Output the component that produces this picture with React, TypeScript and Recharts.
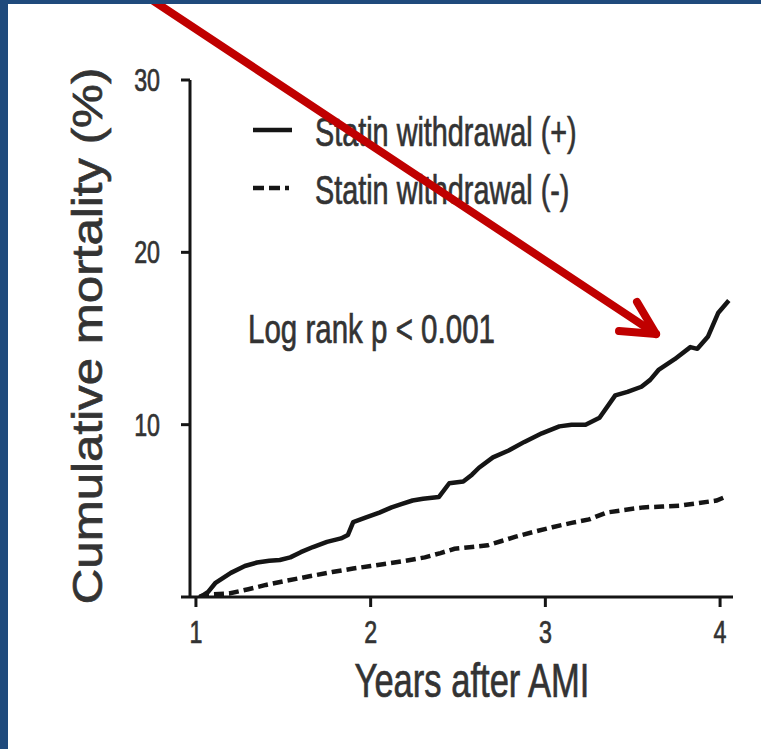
import React from "react";
import { LineChart, Line, XAxis, YAxis, Label } from "recharts";

// Kaplan-Meier style cumulative mortality
const withdrawalT = [1.02, 1.04, 1.07, 1.11, 1.2, 1.28, 1.35, 1.42, 1.48, 1.54, 1.6, 1.67, 1.75, 1.83, 1.87, 1.9, 1.97, 2.05, 2.12, 2.18, 2.24, 2.3, 2.39, 2.45, 2.53, 2.58, 2.62, 2.7, 2.79, 2.88, 2.98, 3.08, 3.15, 3.23, 3.31, 3.4, 3.47, 3.55, 3.6, 3.65, 3.74, 3.83, 3.87, 3.93, 3.99, 4.05];
const withdrawalV = [0, 0.1, 0.3, 0.8, 1.4, 1.8, 2.0, 2.1, 2.15, 2.3, 2.6, 2.9, 3.2, 3.4, 3.6, 4.35, 4.6, 4.9, 5.2, 5.4, 5.6, 5.7, 5.8, 6.6, 6.7, 7.1, 7.5, 8.1, 8.5, 9.0, 9.5, 9.9, 10.0, 10.0, 10.4, 11.7, 11.9, 12.2, 12.6, 13.2, 13.8, 14.5, 14.4, 15.1, 16.5, 17.2];

const continuedT = [1.02, 1.06, 1.19, 1.3, 1.4, 1.52, 1.65, 1.78, 1.9, 2.0, 2.1, 2.2, 2.31, 2.4, 2.48, 2.58, 2.67, 2.75, 2.83, 2.94, 3.04, 3.15, 3.25, 3.35, 3.45, 3.56, 3.67, 3.77, 3.88, 3.98, 4.04];
const continuedV = [0, 0.15, 0.2, 0.45, 0.7, 0.95, 1.2, 1.45, 1.65, 1.8, 1.95, 2.1, 2.3, 2.55, 2.8, 2.9, 3.0, 3.25, 3.5, 3.8, 4.05, 4.3, 4.5, 4.9, 5.05, 5.2, 5.25, 5.3, 5.45, 5.6, 5.85];

const xTicks = [1, 2, 3, 4];
const yTicks = [0, 10, 20, 30];
const yTickLabels = ["", "10", "20", "30"];

const plus = withdrawalT.map((t, i) => ({ t, v: withdrawalV[i] }));
const minus = continuedT.map((t, i) => ({ t, v: continuedV[i] }));

const INK = "#151515";
const TEXT = "#333";
const FONT = "'Liberation Sans', Arial, sans-serif";
// the source is a blurry scan, so text gets a thin outline to look heavier
const heavy = { stroke: TEXT, strokeWidth: 0.7 };

const XTick = ({ x, y, payload }: any) => (
  <text
    transform={`translate(${x},${y + 34}) scale(0.75,1)`}
    textAnchor="middle"
    fontSize={31}
    fontFamily={FONT}
    fill={TEXT}
    {...heavy}
  >
    {payload.value}
  </text>
);

const YTick = ({ y, index }: any) => (
  <text
    transform={`translate(160,${y + 11}) scale(0.75,1)`}
    textAnchor="end"
    fontSize={31}
    fontFamily={FONT}
    fill={TEXT}
    {...heavy}
  >
    {yTickLabels[index]}
  </text>
);

export default function App() {
  return (
    <div
      style={{
        position: "absolute",
        left: 0,
        top: 0,
        width: 761,
        height: 749,
        background: "#fff",
        overflow: "hidden",
      }}
    >
      <LineChart
        width={761}
        height={749}
        margin={{ top: 80, right: 28, left: 0, bottom: 0 }}
      >
        <XAxis
          type="number"
          dataKey="t"
          domain={[0.966, 4.074]}
          ticks={xTicks}
          allowDataOverflow
          height={152}
          stroke={INK}
          strokeWidth={3}
          tickSize={10}
          tick={<XTick />}
        >
          <Label
            content={() => (
              <text
                transform="translate(472,697) scale(0.72,1)"
                textAnchor="middle"
                fontSize={48}
                fontFamily={FONT}
                fill={TEXT}
                {...heavy}
              >
                Years after AMI
              </text>
            )}
          />
        </XAxis>
        <YAxis
          type="number"
          dataKey="v"
          domain={[0, 30]}
          ticks={yTicks}
          allowDataOverflow
          width={190}
          stroke={INK}
          strokeWidth={3}
          tickSize={9}
          tick={<YTick />}
        >
          <Label
            content={() => (
              <text
                transform="translate(102,336) rotate(-90) scale(1.12,0.95)"
                textAnchor="middle"
                fontSize={44}
                fontFamily={FONT}
                fill={TEXT}
                {...heavy}
              >
                Cumulative mortality (%)
              </text>
            )}
          />
        </YAxis>
        <Line
          data={plus}
          dataKey="v"
          type="linear"
          stroke={INK}
          strokeWidth={4.5}
          strokeLinejoin="round"
          dot={false}
          isAnimationActive={false}
        />
        <Line
          data={minus}
          dataKey="v"
          type="linear"
          stroke={INK}
          strokeWidth={4.5}
          strokeDasharray="10 5"
          dot={false}
          isAnimationActive={false}
        />
      </LineChart>

      <svg
        width={761}
        height={749}
        style={{ position: "absolute", left: 0, top: 0, pointerEvents: "none" }}
      >
        {/* legend */}
        <line x1={253} y1={130} x2={292} y2={130} stroke={INK} strokeWidth={4.5} />
        <line x1={253} y1={188} x2={292} y2={188} stroke={INK} strokeWidth={4.5} strokeDasharray="11 5 11 5 4 5" />
        <text transform="translate(315,146) scale(0.72,1)" fontSize={40} fontFamily={FONT} fill={TEXT} {...heavy}>
          Statin withdrawal (+)
        </text>
        <text transform="translate(315,204) scale(0.72,1)" fontSize={40} fontFamily={FONT} fill={TEXT} {...heavy}>
          Statin withdrawal (-)
        </text>
        <text transform="translate(248,343) scale(0.72,1)" fontSize={41} fontFamily={FONT} fill={TEXT} {...heavy}>
          Log rank p &lt; 0.001
        </text>

        {/* red arrow */}
        <g stroke="#c00000" strokeWidth={8} strokeLinecap="round" fill="none">
          <line x1={146} y1={-4} x2={656} y2={334} />
          <line x1={656} y1={334} x2={637} y2={302} />
          <line x1={656} y1={334} x2={619} y2={331} />
        </g>

        {/* frame */}
        <rect x={0} y={0} width={761} height={4} fill="#1f4a7c" />
        <rect x={0} y={0} width={8} height={749} fill="#1f4a7c" />
      </svg>
    </div>
  );
}
